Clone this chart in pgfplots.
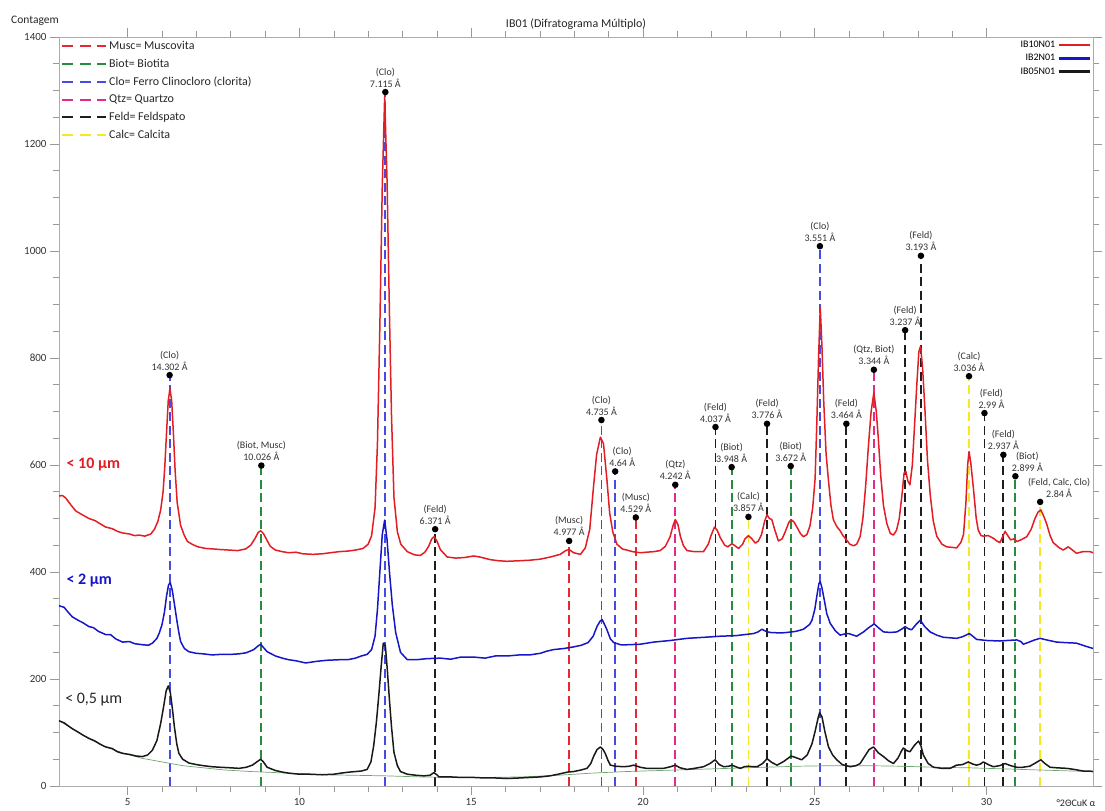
\documentclass[border=0pt]{standalone}
\usepackage{fontspec}
\setmainfont{Carlito}
\usepackage{pgfplots}
\pgfplotsset{compat=1.18}

% sample curves
\definecolor{cRed}{RGB}{226,30,36}
\definecolor{cBlue}{RGB}{22,22,200}
\definecolor{cBlack}{RGB}{25,25,25}
\definecolor{cBack}{RGB}{110,165,110}
% mineral reference lines
\definecolor{mMusc}{RGB}{230,40,50}
\definecolor{mBiot}{RGB}{40,140,60}
\definecolor{mClo}{RGB}{70,76,222}
\definecolor{mQtz}{RGB}{226,42,140}
\definecolor{mFeld}{RGB}{30,30,30}
\definecolor{mCalc}{RGB}{246,232,40}

\pgfplotsset{
  frame/.style={
    at={(0,0)}, anchor=south west,
    scale only axis, width=1034bp, height=749bp,
    xmin=3, xmax=33.1, ymin=0, ymax=1400,
    clip=false,
  },
}
\tikzset{
  lbl/.style={anchor=south, align=center, inner sep=1bp, yshift=3bp,
    font=\fontsize{10bp}{12bp}\selectfont, text=black!80},
}

% one reflection: x, colour, height of the dot, phase, d-spacing, label options
\newcommand{\refl}[6]{%
  \addplot[#2, forget plot, line width=1.8bp, dash pattern=on 9bp off 4.5bp,
    mark=*, mark indices={2}, mark size=2.3bp,
    mark options={solid, fill=black, draw=black}]
    coordinates {(#1,0) (#1,#3)} node[pos=1, lbl, #6] {#4\\#5};%
}

\begin{document}
\begin{tikzpicture}
\begin{axis}[frame,
  axis line style={gray!65},
  tick style={gray!80, line width=0.6bp},
  tick align=outside,
  major tick length=9bp, minor tick length=6bp,
  xtick={5,10,...,30}, minor x tick num=4,
  ytick={0,200,...,1400}, minor y tick num=3,
  /pgf/number format/assume math mode=true,
  /pgf/number format/1000 sep={},
  tick label style={font=\fontsize{11bp}{13bp}\selectfont, text=black!80},
  title={IB01 (Difratograma Múltiplo)},
  title style={font=\fontsize{12bp}{14bp}\selectfont, text=black!85, inner sep=1bp, yshift=0bp},
  legend style={at={(1,1)}, anchor=north east, draw=none, fill=none,
    font=\fontsize{10bp}{11bp}\selectfont, row sep=1.2bp, inner sep=2bp},
  legend plot pos=right, legend cell align=right,
  legend image code/.code={\draw[#1, line width=2.6bp] (0bp,0bp) -- (31bp,0bp);},
]

% reference lines of the identified phases
\refl{6.22}{mClo}{768}{(Clo)}{14.302 Å}{}
\refl{8.89}{mBiot}{599}{(Biot, Musc)}{10.026 Å}{}
\refl{12.50}{mClo}{1297}{(Clo)}{7.115 Å}{}
\refl{13.95}{mFeld}{480}{(Feld)}{6.371 Å}{}
\refl{17.85}{mMusc}{458}{(Musc)}{4.977 Å}{}
\refl{18.79}{mClo}{684}{(Clo)}{4.735 Å}{}
\refl{19.19}{mClo}{588}{(Clo)}{4.64 Å}{xshift=7bp}
\refl{19.79}{mMusc}{502}{(Musc)}{4.529 Å}{}
\refl{20.94}{mQtz}{563}{(Qtz)}{4.242 Å}{}
\refl{22.11}{mFeld}{671}{(Feld)}{4.037 Å}{}
\refl{22.58}{mBiot}{596}{(Biot)}{3.948 Å}{}
\refl{23.07}{mCalc}{503}{(Calc)}{3.857 Å}{}
\refl{23.61}{mFeld}{677}{(Feld)}{3.776 Å}{}
\refl{24.30}{mBiot}{598}{(Biot)}{3.672 Å}{}
\refl{25.15}{mClo}{1009}{(Clo)}{3.551 Å}{}
\refl{25.92}{mFeld}{677}{(Feld)}{3.464 Å}{}
\refl{26.72}{mQtz}{778}{(Qtz, Biot)}{3.344 Å}{}
\refl{27.63}{mFeld}{852}{(Feld)}{3.237 Å}{}
\refl{28.09}{mFeld}{991}{(Feld)}{3.193 Å}{}
\refl{29.49}{mCalc}{766}{(Calc)}{3.036 Å}{}
\refl{29.94}{mFeld}{697}{(Feld)}{2.99 Å}{xshift=7bp}
\refl{30.49}{mFeld}{619}{(Feld)}{2.937 Å}{}
\refl{30.84}{mBiot}{579}{(Biot)}{2.899 Å}{xshift=12bp, yshift=0bp}
\refl{31.56}{mCalc}{531}{(Feld, Calc, Clo)}{2.84 Å}{xshift=19bp, yshift=-1bp}

% background of the finest fraction
\addplot[cBack, line width=0.7bp, forget plot] coordinates {
(3.00,122) (3.39,107) (3.87,89) (4.36,73) (4.85,62) (5.40,52) (6.00,45) (6.60,38)
(7.20,34) (7.80,30) (8.60,27) (9.70,24) (10.70,21) (11.60,20) (12.50,19) (13.50,17)
(14.50,16) (15.50,16) (16.50,17) (17.50,20) (18.50,24) (19.50,27) (20.50,29) (21.50,31)
(22.50,33) (23.50,35) (24.50,37) (25.50,38) (26.50,38) (27.50,37) (28.50,35) (29.50,34)
(30.50,32) (31.50,30) (32.50,28) (33.10,27)};

% IB10N01, fraction < 10 um
\addplot[cRed, line width=1.5bp, line join=round] coordinates {
(3.00,542) (3.10,543) (3.20,538) (3.35,525) (3.49,514) (3.65,508) (3.87,500) (4.05,496)
(4.20,490) (4.36,484) (4.55,481) (4.70,476) (4.85,473) (5.05,471) (5.20,468) (5.33,469)
(5.50,467) (5.67,471) (5.78,480) (5.88,495) (5.96,516) (6.03,550) (6.08,597) (6.13,660)
(6.18,720) (6.23,743) (6.28,720) (6.33,660) (6.38,590) (6.44,530) (6.54,487) (6.65,468)
(6.74,457) (6.90,451) (7.05,447) (7.27,444) (7.50,443) (7.70,442) (7.95,441) (8.20,440)
(8.43,443) (8.58,450) (8.70,462) (8.80,474) (8.87,477) (8.95,472) (9.05,460) (9.15,448)
(9.30,441) (9.50,438) (9.69,436) (9.90,437) (10.10,434) (10.40,433) (10.66,434) (10.90,436)
(11.15,438) (11.40,439) (11.63,441) (11.85,444) (12.00,452) (12.10,468) (12.20,520) (12.27,640)
(12.34,860) (12.41,1120) (12.48,1288) (12.55,1130) (12.62,880) (12.68,690) (12.75,540) (12.85,475)
(12.95,452) (13.14,438) (13.35,432) (13.52,431) (13.65,437) (13.76,448) (13.85,462) (13.92,466)
(14.00,458) (14.10,442) (14.30,428) (14.55,426) (14.80,427) (15.07,430) (15.25,428) (15.56,423)
(15.80,421) (16.04,420) (16.40,421) (16.70,422) (17.01,424) (17.30,428) (17.59,433) (17.75,440)
(17.85,442) (17.98,436) (18.18,433) (18.32,445) (18.45,480) (18.56,560) (18.65,620) (18.76,652)
(18.85,640) (18.95,572) (19.03,510) (19.12,475) (19.24,452) (19.40,443) (19.53,441) (19.70,438)
(19.92,436) (20.10,437) (20.31,438) (20.50,440) (20.65,448) (20.79,466) (20.88,488) (20.94,498)
(21.02,488) (21.09,466) (21.18,449) (21.28,440) (21.50,438) (21.76,438) (21.90,452) (21.98,468)
(22.08,484) (22.16,478) (22.25,464) (22.38,450) (22.47,447) (22.59,453) (22.68,449) (22.78,444)
(22.90,452) (22.97,462) (23.07,468) (23.17,462) (23.27,454) (23.36,458) (23.45,470) (23.54,495)
(23.61,507) (23.68,500) (23.75,498) (23.83,480) (23.94,458) (24.05,462) (24.14,475) (24.24,492)
(24.31,498) (24.40,493) (24.48,484) (24.58,472) (24.67,466) (24.77,470) (24.86,486) (24.94,520)
(25.01,575) (25.06,680) (25.11,800) (25.16,895) (25.21,820) (25.26,720) (25.33,620) (25.40,570)
(25.47,525) (25.54,498) (25.64,485) (25.74,477) (25.82,468) (25.90,462) (26.02,452) (26.13,449)
(26.22,452) (26.32,466) (26.40,500) (26.48,560) (26.56,634) (26.64,700) (26.72,735) (26.79,700)
(26.85,650) (26.92,580) (27.00,524) (27.10,490) (27.20,472) (27.29,469) (27.38,478) (27.46,500)
(27.54,545) (27.60,585) (27.65,588) (27.71,570) (27.77,563) (27.84,600) (27.91,680) (27.97,750)
(28.03,812) (28.08,822) (28.14,780) (28.21,700) (28.28,610) (28.36,545) (28.45,495) (28.55,467)
(28.70,452) (28.84,447) (29.00,446) (29.13,445) (29.25,455) (29.33,470) (29.40,530) (29.45,600)
(29.49,625) (29.54,605) (29.62,555) (29.70,500) (29.76,478) (29.84,468) (29.91,467) (30.05,468)
(30.20,463) (30.30,458) (30.39,455) (30.47,466) (30.54,476) (30.62,468) (30.70,460) (30.80,462)
(30.88,457) (31.00,460) (31.17,466) (31.30,480) (31.41,500) (31.50,512) (31.58,516) (31.66,505)
(31.75,490) (31.85,468) (31.94,455) (32.10,446) (32.23,441) (32.38,447) (32.50,441) (32.62,435)
(32.80,438) (33.01,438) (33.10,436)};
\addlegendentry{IB10N01}

% IB2N01, fraction < 2 um
\addplot[cBlue, line width=1.5bp, line join=round] coordinates {
(3.00,337) (3.15,334) (3.25,326) (3.39,316) (3.55,310) (3.70,305) (3.87,298) (4.00,296)
(4.15,289) (4.36,283) (4.50,283) (4.65,275) (4.85,269) (5.05,270) (5.20,266) (5.44,264)
(5.60,263) (5.72,267) (5.85,276) (5.92,286) (6.00,302) (6.07,325) (6.13,355) (6.19,376)
(6.24,380) (6.30,365) (6.36,340) (6.42,314) (6.48,290) (6.54,270) (6.65,257) (6.78,251)
(7.00,248) (7.20,247) (7.46,245) (7.70,246) (8.00,246) (8.24,247) (8.45,249) (8.67,255)
(8.80,262) (8.87,265) (8.95,259) (9.06,251) (9.30,243) (9.50,239) (9.69,236) (9.90,234)
(10.18,230) (10.50,233) (10.80,235) (11.15,236) (11.40,236) (11.63,239) (11.80,243) (11.97,246)
(12.10,255) (12.20,280) (12.27,330) (12.34,400) (12.41,470) (12.48,497) (12.55,460) (12.62,400)
(12.70,340) (12.80,287) (12.94,250) (13.14,236) (13.40,236) (13.70,238) (14.10,239) (14.40,237)
(14.70,241) (15.07,241) (15.40,239) (15.70,243) (16.04,243) (16.40,245) (16.70,245) (17.01,248)
(17.20,252) (17.40,255) (17.70,257) (17.98,260) (18.20,263) (18.40,268) (18.55,280) (18.66,298)
(18.75,308) (18.81,311) (18.88,302) (18.95,292) (19.05,275) (19.15,268) (19.35,264) (19.53,264)
(19.92,265) (20.31,269) (20.80,272) (21.28,276) (21.80,278) (22.25,280) (22.70,281) (23.22,285)
(23.35,288) (23.46,293) (23.58,289) (23.70,287) (24.00,286) (24.19,287) (24.45,289) (24.67,293)
(24.85,302) (24.92,310) (25.00,330) (25.06,355) (25.12,378) (25.16,382) (25.21,370) (25.27,350)
(25.35,322) (25.45,304) (25.60,290) (25.74,282) (25.86,284) (25.98,285) (26.22,280) (26.42,288)
(26.55,295) (26.73,303) (26.85,296) (27.00,288) (27.20,287) (27.39,288) (27.55,294) (27.63,298)
(27.72,294) (27.82,292) (27.95,302) (28.07,310) (28.20,298) (28.36,288) (28.55,282) (28.74,278)
(28.94,277) (29.13,276) (29.30,279) (29.50,285) (29.60,280) (29.71,274) (30.00,272) (30.39,271)
(30.60,272) (30.88,273) (31.00,270) (31.07,265) (31.20,268) (31.40,273) (31.56,276) (31.75,273)
(32.04,269) (32.30,268) (32.62,267) (32.85,262) (33.10,257)};
\addlegendentry{IB2N01}

% IB05N01, fraction < 0,5 um
\addplot[cBlack, line width=1.5bp, line join=round] coordinates {
(3.00,122) (3.15,118) (3.30,111) (3.39,107) (3.55,101) (3.70,95) (3.87,89) (4.05,84)
(4.20,78) (4.36,73) (4.55,70) (4.70,64) (4.85,61) (5.05,59) (5.25,56) (5.43,55)
(5.58,58) (5.72,67) (5.85,85) (5.96,117) (6.05,150) (6.12,178) (6.18,187) (6.24,175)
(6.30,145) (6.36,110) (6.43,78) (6.49,61) (6.60,50) (6.78,43) (7.00,40) (7.20,38)
(7.46,36) (7.70,35) (8.00,34) (8.24,33) (8.45,35) (8.63,39) (8.78,46) (8.87,50)
(8.95,45) (9.06,35) (9.30,29) (9.50,26) (9.69,24) (10.00,22) (10.30,22) (10.66,21)
(11.00,22) (11.20,24) (11.45,26) (11.63,27) (11.80,28) (11.97,31) (12.08,45) (12.16,75)
(12.24,120) (12.31,170) (12.38,225) (12.44,267) (12.50,262) (12.56,215) (12.62,160) (12.68,110)
(12.75,63) (12.85,38) (12.94,27) (13.14,22) (13.40,20) (13.62,19) (13.80,20) (13.91,25)
(14.00,21) (14.06,17) (14.40,17) (14.70,16) (15.07,16) (15.40,15) (15.70,15) (16.04,14)
(16.40,15) (16.70,16) (17.01,17) (17.30,19) (17.60,23) (17.80,26) (17.98,27) (18.20,30)
(18.37,33) (18.48,42) (18.56,55) (18.66,68) (18.76,73) (18.84,68) (18.90,61) (18.98,48)
(19.05,39) (19.20,37) (19.44,36) (19.60,37) (19.73,39) (19.92,35) (20.10,33) (20.31,33)
(20.60,33) (20.80,36) (20.94,39) (21.08,34) (21.28,31) (21.50,33) (21.76,36) (21.95,42)
(22.10,49) (22.22,40) (22.35,36) (22.50,37) (22.59,39) (22.70,36) (22.83,33) (22.95,36)
(23.07,37) (23.20,36) (23.32,36) (23.48,42) (23.61,51) (23.75,44) (23.90,39) (24.10,46)
(24.31,56) (24.45,53) (24.62,49) (24.78,58) (24.92,79) (25.02,105) (25.10,128) (25.14,137)
(25.21,129) (25.30,100) (25.40,73) (25.52,58) (25.64,49) (25.80,40) (26.03,36) (26.20,38)
(26.32,42) (26.45,55) (26.58,68) (26.71,73) (26.85,62) (27.00,55) (27.15,47) (27.29,42)
(27.42,52) (27.52,65) (27.58,71) (27.68,66) (27.77,64) (27.90,76) (28.02,84) (28.09,75)
(28.16,58) (28.30,42) (28.46,35) (28.70,33) (28.94,33) (29.13,39) (29.30,40) (29.47,45)
(29.60,41) (29.71,39) (29.82,41) (29.91,45) (30.05,40) (30.20,36) (30.38,38) (30.54,42)
(30.70,38) (30.88,35) (31.05,35) (31.26,37) (31.45,44) (31.58,49) (31.70,42) (31.85,35)
(32.05,34) (32.33,33) (32.55,31) (32.81,28) (33.00,28) (33.10,27)};
\addlegendentry{IB05N01}

% fraction names
\node[anchor=west, text=cRed, font=\fontsize{16bp}{18bp}\selectfont\bfseries] at (axis cs:3.12,600) {< 10 µm};
\node[anchor=west, text=cBlue, font=\fontsize{16bp}{18bp}\selectfont\bfseries] at (axis cs:3.12,385) {< 2 µm};
\node[anchor=west, text=black!85, font=\fontsize{16bp}{18bp}\selectfont] at (axis cs:3.08,161) {< 0,5 µm};

% axis captions
\node[font=\fontsize{11.5bp}{13bp}\selectfont, text=black!85] at (rel axis cs:0,1) [xshift=-24bp, yshift=16bp] {Contagem};
\node[anchor=west, font=\fontsize{10bp}{12bp}\selectfont, text=black!85] at (rel axis cs:1,0) [xshift=-40bp, yshift=-17bp] {°2ΘCuK α};
\end{axis}

% legend of the phases
\begin{axis}[frame, hide axis,
  legend style={at={(0,1)}, anchor=north west, draw=none, fill=none,
    font=\fontsize{12bp}{14bp}\selectfont, row sep=4bp, inner sep=2bp,
    text=black!85},
  legend cell align=left,
  legend image code/.code={\draw[#1, line width=2bp, dash pattern=on 11bp off 6.5bp] (0bp,0bp) -- (44bp,0bp);},
]
\addlegendimage{mMusc}\addlegendentry{Musc= Muscovita}
\addlegendimage{mBiot}\addlegendentry{Biot= Biotita}
\addlegendimage{mClo}\addlegendentry{Clo= Ferro Clinocloro (clorita)}
\addlegendimage{mQtz}\addlegendentry{Qtz= Quartzo}
\addlegendimage{mFeld}\addlegendentry{Feld= Feldspato}
\addlegendimage{mCalc}\addlegendentry{Calc= Calcita}
\end{axis}

\pgfresetboundingbox
\path[use as bounding box] (-59bp,-25bp) rectangle (1046bp,786bp);
\end{tikzpicture}
\end{document}
